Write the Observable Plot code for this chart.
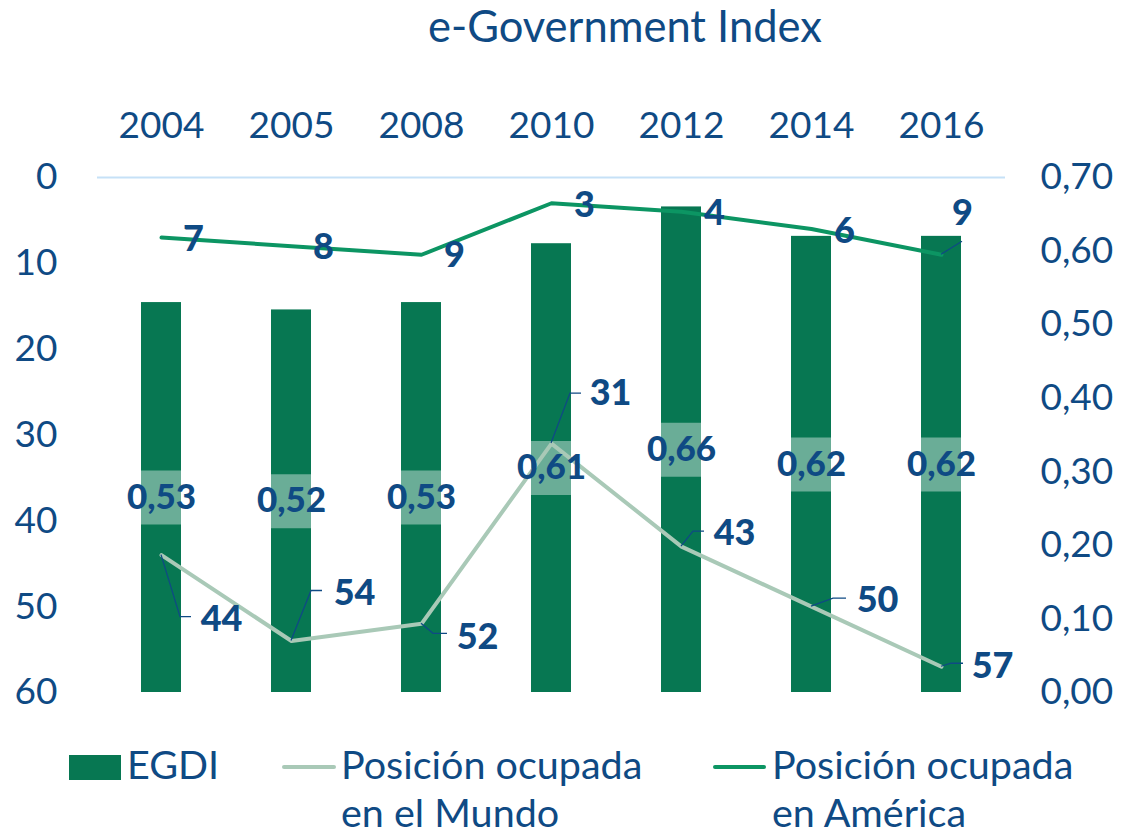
<!DOCTYPE html>
<html><head><meta charset="utf-8">
<script src="https://cdn.jsdelivr.net/npm/d3@7"></script>
<script src="https://cdn.jsdelivr.net/npm/@observablehq/plot@0.6"></script>
<style>
body{margin:0;background:#fff;font-family:Lato,sans-serif;color:#0f4a84}
#wrap{position:relative;width:1122px;height:836px;overflow:hidden;background:#fff}
#title{position:absolute;left:625px;top:-1px;transform:translateX(-50%);font-size:43.5px;white-space:nowrap;line-height:52px}
#chart{position:absolute;left:0;top:0}
.lg{position:absolute;font-size:39.5px;line-height:48px;white-space:pre}
.sw{position:absolute}
</style></head><body>
<div id="wrap"><div id="title">e-Government Index</div><div id="chart"></div></div>
<script>
const years = ["2004","2005","2008","2010","2012","2014","2016"];
const egdi = [0.53,0.52,0.53,0.61,0.66,0.62,0.62];
const mundo = [44,54,52,31,43,50,57];
const america = [7,8,9,3,4,6,9];
const leftTicks = [0,10,20,30,40,50,60];
const rightTicks = [0,0.1,0.2,0.3,0.4,0.5,0.6,0.7];
const legendLabels = ["EGDI","Posición ocupada\nen el Mundo","Posición ocupada\nen América"];

// label layout (pixel offsets from the point)
const americaLabelOffsets = [[32,2],[32,1],[33,1],[33,2],[33,2],[33,2],[21,-41]];
const americaLeaders = [null,null,null,null,null,null,[[0,0],[21,-13]]];
const mundoLabelOffsets = [[60,64],[63,-48],[56,14],[59,-50],[53,-13],[66,-6],[51,0]];
const mundoLeaders = [
  [[0,0],[19,62],[30,62]],
  [[0,0],[20,-50],[31,-50]],
  [[0,0],[12,10],[26,10]],
  [[0,0],[19,-50],[30,-50]],
  [[0,0],[12,-15],[23,-15]],
  [[0,0],[22,-8],[35,-8]],
  [[0,0],[10,-3],[22,-3]]
];

const TEXT = "#0f4a84";
const BAR = "#077752";
const MUNDO = "#a9c9b7";
const AMER = "#0c9563";
const LABEL_WEIGHT = 900;
const fmt = v => v.toFixed(2).replace(".", ",");
const toLeft = v => 60 - v * 60 / 0.7;
const fromLeft = y => (60 - y) * 0.7 / 60;

const data = years.map((year, i) => ({
  year, egdi: egdi[i], egdiTop: toLeft(egdi[i]), egdiMid: 60 - egdi[i] * 30 / 0.7,
  mundo: mundo[i], america: america[i]
}));

const labelMarks = [];
data.forEach((d, i) => {
  labelMarks.push(Plot.text([d], {x: "year", y: "america", text: d => String(d.america),
    dx: americaLabelOffsets[i][0], dy: americaLabelOffsets[i][1], fill: TEXT, fontWeight: LABEL_WEIGHT, fontSize: 36}));
  labelMarks.push(Plot.text([d], {x: "year", y: "mundo", text: d => String(d.mundo),
    dx: mundoLabelOffsets[i][0], dy: mundoLabelOffsets[i][1], fill: TEXT, fontWeight: LABEL_WEIGHT, fontSize: 36}));
});

const chart = Plot.plot({
  width: 1122, height: 740,
  marginTop: 177, marginBottom: 48, marginLeft: 97, marginRight: 117,
  x: {type: "band", domain: years, paddingInner: 0.69, paddingOuter: 0.337, align: 0.5, label: null},
  y: {domain: [0, 60], reverse: true, label: null},
  style: {fontFamily: "Lato, sans-serif", fontSize: "37px", color: TEXT, background: "transparent"},
  marks: [
    Plot.ruleY([0], {stroke: "#c6e1f7", strokeWidth: 2}),
    Plot.barY(data, {x: "year", y1: () => 60, y2: "egdiTop", fill: BAR}),
    Plot.tickY(data, {x: "year", y: "egdiMid", stroke: "white", strokeOpacity: 0.4, strokeWidth: 54}),
    Plot.line(data, {x: "year", y: "mundo", stroke: MUNDO, strokeWidth: 4}),
    Plot.line(data, {x: "year", y: "america", stroke: AMER, strokeWidth: 4}),
    Plot.text(data, {x: "year", y: "egdiMid", text: d => fmt(d.egdi), fill: TEXT, fontWeight: LABEL_WEIGHT, fontSize: 35}),
    ...labelMarks,
    Plot.axisX({anchor: "top", tickSize: 0, tickPadding: 40, label: null}),
    Plot.axisY(leftTicks, {anchor: "left", tickSize: 0, tickPadding: 40, label: null}),
    Plot.axisY(rightTicks.map(toLeft), {anchor: "right", tickSize: 0, tickPadding: 35, label: null,
      tickFormat: y => fmt(Math.round(fromLeft(y) * 100) / 100), textAnchor: "start"})
  ]
});
document.getElementById("chart").appendChild(chart);

// leader lines through the plot's own scales
const xs = chart.scale("x"), ys = chart.scale("y");
const px = yr => xs.apply(yr) + xs.bandwidth / 2;
const py = v => ys.apply(v);
const svg = d3.select(chart);
const g = svg.append("g").attr("fill", "none").attr("stroke", TEXT).attr("stroke-width", 1.3);
data.forEach((d, i) => {
  const L1 = mundoLeaders[i];
  if (L1) g.append("path").attr("d", d3.line()(L1.map(([a, b]) => [px(d.year) + a, py(d.mundo) + b])));
  const L2 = americaLeaders[i];
  if (L2) g.append("path").attr("d", d3.line()(L2.map(([a, b]) => [px(d.year) + a, py(d.america) + b])));
});

// legend
const wrap = document.getElementById("wrap");
const swatches = [
  {type: "rect", left: 69, top: 755, w: 52, h: 25, color: BAR, textLeft: 127},
  {type: "line", left: 282, top: 765, w: 54, h: 4, color: MUNDO, textLeft: 341},
  {type: "line", left: 713, top: 765, w: 53, h: 4, color: AMER, textLeft: 772}
];
legendLabels.forEach((lab, i) => {
  const s = swatches[i];
  const sw = document.createElement("div");
  sw.className = "sw";
  Object.assign(sw.style, {left: s.left + "px", top: s.top + "px", width: s.w + "px", height: s.h + "px",
    background: s.color, borderRadius: s.type === "line" ? "2px" : "0"});
  wrap.appendChild(sw);
  const t = document.createElement("div");
  t.className = "lg";
  t.textContent = lab;
  Object.assign(t.style, {left: s.textLeft + "px", top: "740px"});
  wrap.appendChild(t);
});
</script>
</body></html>
